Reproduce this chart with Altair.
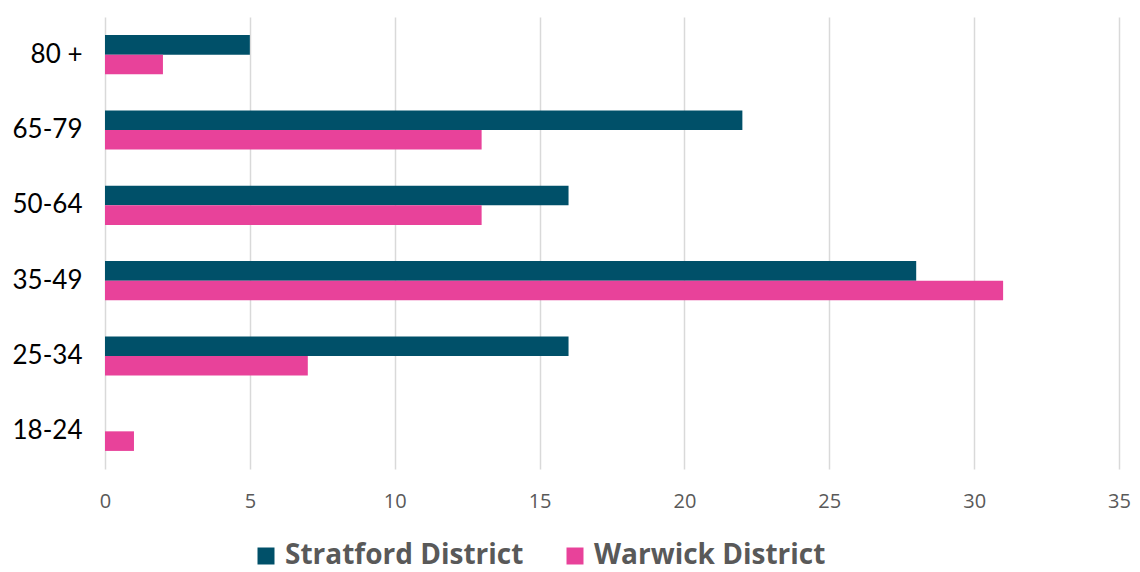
import altair as alt
import pandas as pd

ages = ["80 +", "65-79", "50-64", "35-49", "25-34", "18-24"]
stratford = [5, 22, 16, 28, 16, 0]
warwick = [2, 13, 13, 31, 7, 1]
series = ["Stratford District", "Warwick District"]
colors = ["#005069", "#E8429A"]

rows = []
for a, s, w in zip(ages, stratford, warwick):
    rows.append({"age": a, "series": series[0], "value": s})
    rows.append({"age": a, "series": series[1], "value": w})
df = pd.DataFrame(rows)

chart = alt.Chart(df).mark_bar().encode(
    y=alt.Y("age:N", sort=ages, title=None,
            scale=alt.Scale(paddingInner=0.48, paddingOuter=0.24),
            axis=alt.Axis(labelFont="Lato", labelFontSize=26, labelColor="#000000",
                          labelPadding=23, ticks=False, domain=False, grid=False)),
    yOffset=alt.YOffset("series:N", sort=series),
    x=alt.X("value:Q", title=None,
            scale=alt.Scale(domain=[0, 35], nice=False),
            axis=alt.Axis(values=[0, 5, 10, 15, 20, 25, 30, 35], labelFont="Open Sans",
                          labelFontSize=20, labelColor="#595959", labelPadding=22,
                          labelFlush=False,
                          ticks=False, domain=False, grid=True, gridColor="#D9D9D9",
                          gridWidth=1.5)),
    color=alt.Color("series:N", sort=series,
                    scale=alt.Scale(domain=series, range=colors),
                    legend=alt.Legend(title=None, orient="none", direction="horizontal",
                                      legendX=147, legendY=525, padding=0,
                                      labelFont="Open Sans", labelFontWeight="bold",
                                      labelFontSize=28, labelColor="#595959",
                                      labelLimit=500,
                                      symbolType="square", symbolSize=289,
                                      symbolStrokeWidth=0, columnPadding=37,
                                      labelOffset=5)),
).properties(
    width=1014, height=452,
    autosize=alt.AutoSizeParams(type="none"),
    padding={"left": 97, "top": 9, "right": 13, "bottom": 106},
).configure_view(stroke=None)

chart.save("out.html", embed_options={"renderer": "svg", "actions": False})
